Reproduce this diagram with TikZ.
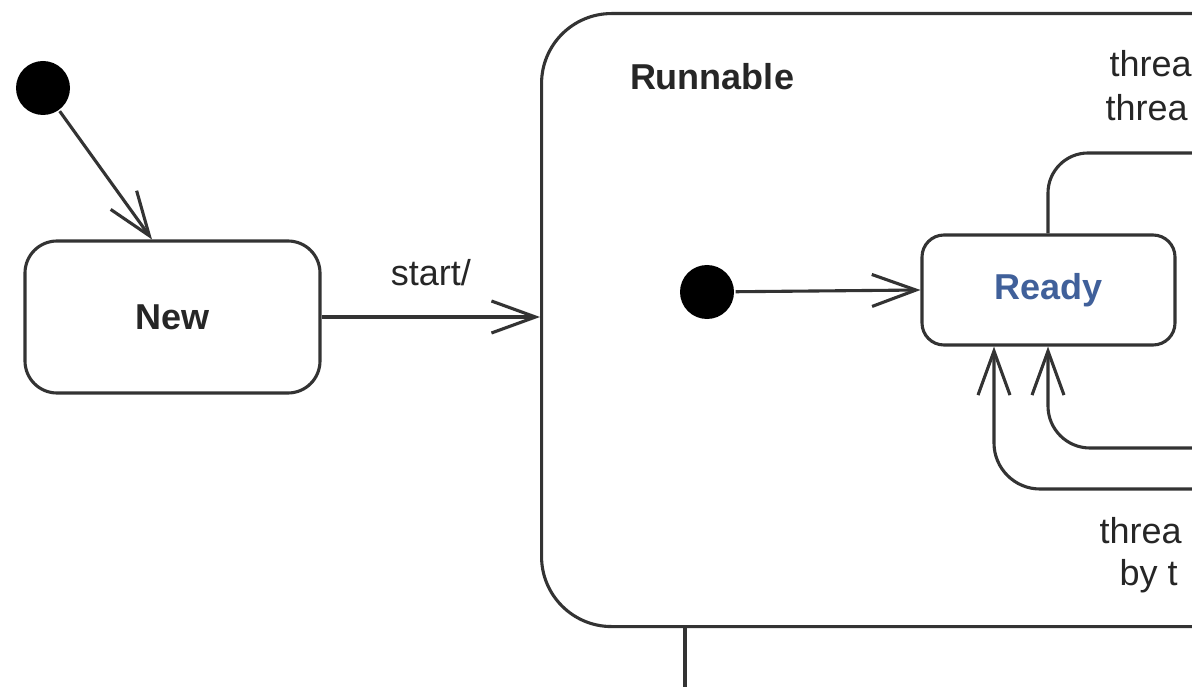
\documentclass[tikz,border=0pt]{standalone}
\usepackage{fontspec}
\setmainfont{Liberation Sans}
\usetikzlibrary{arrows.meta}
\definecolor{linegray}{HTML}{333333}
\definecolor{readyblue}{HTML}{40609A}
\begin{document}
\begin{tikzpicture}[x=1pt,y=-1pt,
  line width=3.1pt,
  state/.style={draw=linegray, fill=white, inner sep=0pt,
    font=\fontsize{36}{43}\selectfont\bfseries},
  init/.style={circle, fill=black, minimum size=54pt, inner sep=0pt},
  edge/.style={draw=linegray, -{Straight Barb[length=44pt,width=32pt]}},
  link/.style={draw=linegray},
  lbl/.style={font=\fontsize{36}{43}\selectfont, text=black!85, inner sep=0pt}
]
\useasboundingbox (0,0) rectangle (1192,687);
\clip (0,0) rectangle (1192,687);
\fill[white] (0,0) rectangle (1192,687);

% composite state, continuing to the right
\node[state, rounded corners=70pt, minimum width=1160pt, minimum height=613pt,
      anchor=north west] (runnable) at (540,12) {};
\node[font=\fontsize{36}{43}\selectfont\bfseries, text=black!85] (runlbl) at (712,77) {Runnable};

% outer initial state and New
\node[init] (init1) at (43,88) {};
\node[state, rounded corners=32pt, minimum width=295pt, minimum height=152pt,
      text=black!85] (new) at (172.5,317) {New};

% inner initial state and Ready
\node[init] (init2) at (707,292) {};
\node[state, rounded corners=22pt, minimum width=253pt, minimum height=110pt,
      text=readyblue] (ready) at (1048.5,290) {Ready};

% transitions
\draw[edge] (init1) -- (new.north -| 152,0);
\draw[edge] (new.east) -- (runnable.west |- new.east)
  node[lbl, midway, above=30pt] (startlbl) {start/};
\draw[edge] (init2) -- (ready.west);

% loops around Ready (leaving the view on the right)
\coordinate (topout) at (1250,153);
\coordinate (lowin1) at (1250,448);
\coordinate (lowin2) at (1250,489);
\draw[link, rounded corners=40pt] (ready.north -| 1048,0) -- (1048,153) -- (topout);
\draw[edge, rounded corners=42pt] (lowin1) -- (1048,448) -- (ready.south -| 1048,0);
\draw[edge, rounded corners=46pt] (lowin2) -- (994,489) -- (ready.south -| 994,0);

% exit from Runnable downward
\coordinate (downout) at (685,720);
\draw[link] (runnable.south -| 685,0) -- (downout);

% transition labels
\node[lbl, anchor=west] (t1) at (1108,64) {threa};
\node[lbl, anchor=west] (t2) at (1104,108) {threa};
\node[lbl, anchor=west] (t3) at (1098,531) {threa};
\node[lbl, anchor=west] (t4) at (1118,576) {by t};
\end{tikzpicture}
\end{document}
